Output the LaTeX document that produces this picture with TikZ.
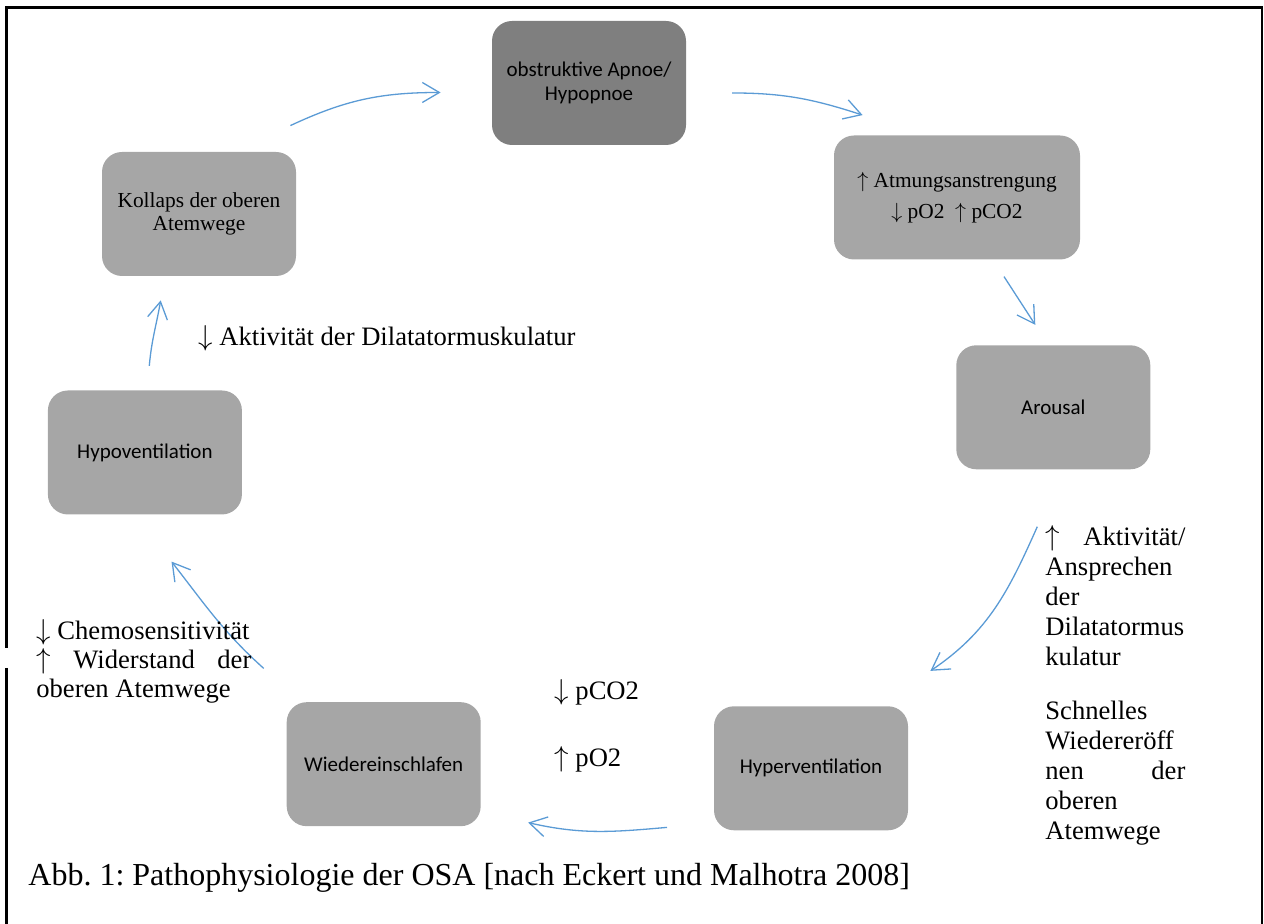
\documentclass[tikz,border=0pt]{standalone}
\usepackage{fontspec}
\setmainfont{Liberation Serif}
\newfontfamily\calibri{Carlito}
\usetikzlibrary{arrows.meta}
\definecolor{boxgray}{HTML}{A6A6A6}
\definecolor{boxdark}{HTML}{7F7F7F}
\definecolor{flowblue}{HTML}{5B9BD5}
\newcommand{\arup}{$\uparrow$}
\newcommand{\ardn}{$\downarrow$}
\frenchspacing
\begin{document}
\begin{tikzpicture}[x=0.5pt,y=0.5pt]
    \tikzstyle{stage}=[rounded corners=10pt,fill=boxgray,minimum width=97pt,minimum height=62pt,align=center,inner sep=0pt]
    \tikzstyle{sans}=[font=\calibri\fontsize{10.5}{11.7}\selectfont]
    \tikzstyle{serif}=[font=\fontsize{10.7}{11.2}\selectfont]
    \tikzstyle{note}=[font=\fontsize{13.3}{15}\selectfont,inner sep=0pt,anchor=base west]
    \tikzstyle{flow}=[draw=flowblue,line width=0.65pt,-{Straight Barb[length=8.5pt,width=10pt]}]
    \useasboundingbox (0,0) rectangle (1264,924);
    \draw[line width=1.2pt] (6.5,256) -- (6.5,0);
    \draw[line width=1.2pt] (6.5,276) -- (6.5,916.5) -- (1262,916.5) -- (1262,0);
    \node[stage,sans,fill=boxdark] (apnoe) at (589,841) {obstruktive Apnoe/\\Hypopnoe};
    \node[stage,serif,minimum width=123pt,font=\fontsize{10.7}{15.5}\selectfont] (atmung) at (957,726.5) {\arup{} Atmungsanstrengung\\\ardn{} pO2\ \ \arup{} pCO2};
    \node[stage,sans] (arousal) at (1053.3,516.7) {Arousal};
    \node[stage,sans] (hyper) at (811,155.7) {Hyperventilation};
    \node[stage,sans] (wieder) at (383.7,159.8) {Wiedereinschlafen};
    \node[stage,sans] (hypo) at (144.9,471.5) {Hypoventilation};
    \node[stage,serif] (kollaps) at (199,710) {Kollaps der oberen\\Atemwege};
    \draw[flow] ([shift={(-6,26)}]kollaps.north east) to[out=25,in=180] ([shift={(-51,-9.5)}]apnoe.west);
    \draw[flow] ([shift={(45.7,-10)}]apnoe.east) to[out=0,in=162] ([shift={(29,20)}]atmung.north west);
    \draw[flow] ([shift={(47,-16.7)}]atmung.south) -- ([shift={(-18,20)}]arousal.north);
    \draw[flow] ([shift={(-16,-57)}]arousal.south) to[out=246,in=34] ([shift={(22,35)}]hyper.north east);
    \draw[flow] ([shift={(-46.6,3.3)}]hyper.south west) to[out=185,in=-13] ([shift={(47,4)}]wieder.south east);
    \draw[flow] ([shift={(-22.6,33.4)}]wieder.north west) to[out=138,in=-52] ([shift={(26.6,-46.7)}]hypo.south);
    \draw[flow] ([shift={(4.4,24.3)}]hypo.north) to[out=85,in=-100] ([shift={(-38.3,-24)}]kollaps.south);
    \node[note] (dilat) at (198,578) {\ardn{} Aktivität der Dilatatormuskulatur};
    \node[note,align=left] (aktiv) at (1045,258) {\hbox to 70pt{\arup\hfill Aktivität/}\\Ansprechen\\der\\Dilatatormus\\kulatur};
    \node[note,align=left] (oeffnen) at (1045,84) {Schnelles\\Wiedereröff\\\hbox to 70pt{nen\hfill der}\\oberen\\Atemwege};
    \node[note,align=left,font=\fontsize{13.3}{14.5}\selectfont] (chemo) at (36,226) {\ardn{} Chemosensitivität\\\hbox to 107.5pt{\arup\hfill Widerstand\hfill der}\\oberen Atemwege};
    \node[note] (pco) at (554,224) {\ardn{} pCO2};
    \node[note] (po) at (554,157) {\arup{} pO2};
    \node[note,font=\fontsize{16}{19}\selectfont] (caption) at (28,38) {Abb. 1: Pathophysiologie der OSA [nach Eckert und Malhotra 2008]};
\end{tikzpicture}
\end{document}
